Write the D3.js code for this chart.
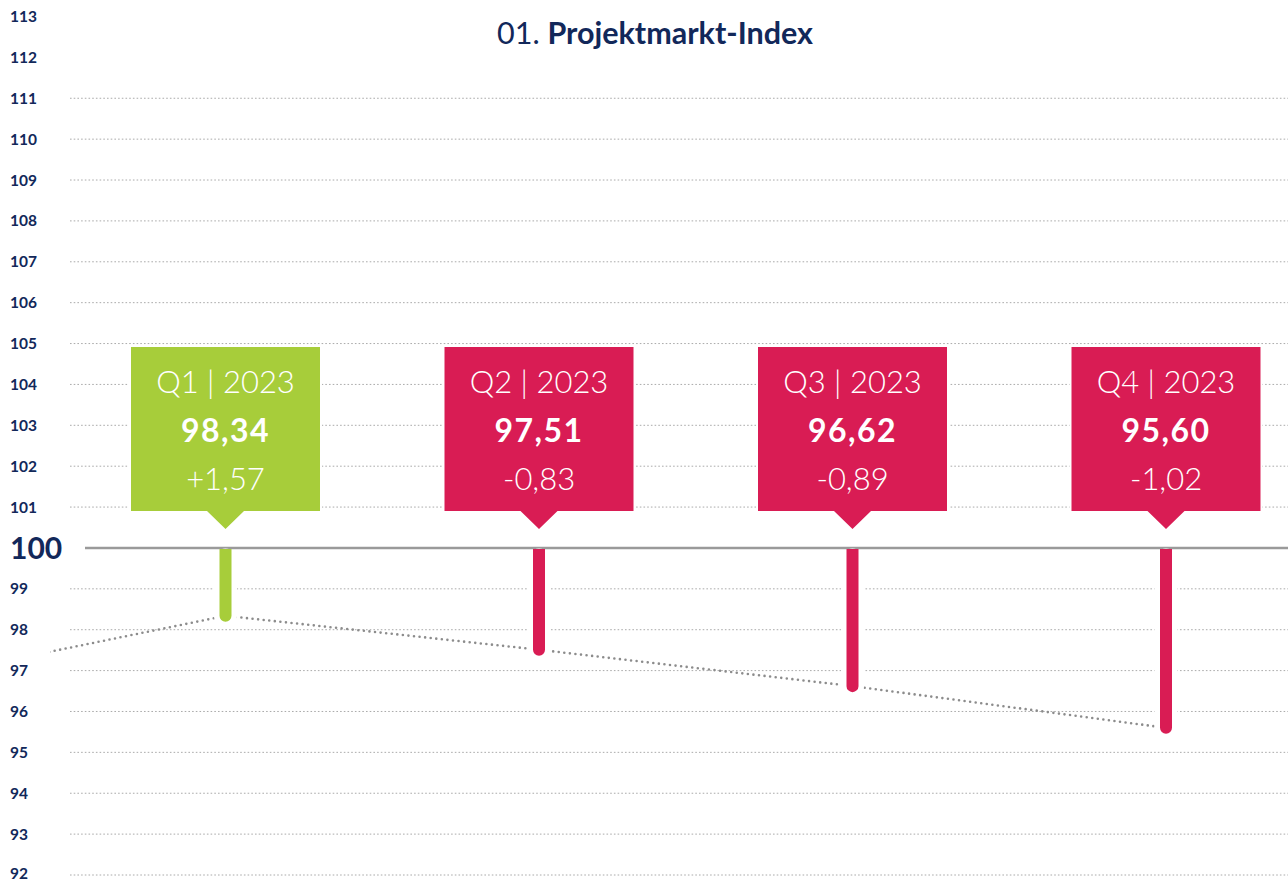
<!DOCTYPE html>
<html><head><meta charset="utf-8">
<script src="https://cdn.jsdelivr.net/npm/d3@7"></script>
<style>html,body{margin:0;padding:0;background:#fff;}svg{display:block;font-family:Lato,"Open Sans",sans-serif;}</style>
</head><body>
<svg id="c" width="1288" height="881"></svg>
<script>
const quarters = ["Q4 | 2022","Q1 | 2023","Q2 | 2023","Q3 | 2023","Q4 | 2023"];
const values = [96.77, 98.34, 97.51, 96.62, 95.60];
const changes = [null, "+1,57", "-0,83", "-0,89", "-1,02"];
const valueLabels = [null, "98,34", "97,51", "96,62", "95,60"];
const yTicks = d3.range(92, 114);
const gridTicks = d3.range(92, 112).filter(v => v !== 100);

const navy = "#12285a", green = "#a7cd3a", red = "#d91c54";
const svg = d3.select("#c");
const W = 1288;
const y = d3.scaleLinear().domain([92, 113]).range([875, 16.5]);
const x = d3.scalePoint().domain(quarters).range([-88, 1166]);

// title
const t = svg.append("text").attr("x", 655).attr("y", 44).attr("text-anchor", "middle")
  .attr("fill", navy).attr("font-size", 30.5);
t.append("tspan").attr("font-weight", 400).text("01. ");
t.append("tspan").attr("font-weight", 700).text("Projektmarkt-Index");

// y labels
svg.append("g").selectAll("text").data(yTicks).join("text")
  .attr("x", 10).attr("y", d => d === 92 ? y(d) - 1.5 : y(d)).attr("dy", "0.36em")
  .attr("fill", navy).attr("font-weight", 700)
  .attr("font-size", d => d === 100 ? 30 : 15.5)
  .text(d => d);

// gridlines
svg.append("g").selectAll("line").data(gridTicks).join("line")
  .attr("x1", 70).attr("x2", W).attr("y1", d => y(d)).attr("y2", d => y(d))
  .attr("stroke", "#aaa").attr("stroke-width", 1).attr("stroke-dasharray", "1.6,2.1");

// trend line
svg.append("clipPath").attr("id", "clipL").append("rect")
  .attr("x", 50).attr("y", 0).attr("width", W).attr("height", 881);
svg.append("path").datum(quarters.map((q, i) => [x(q), y(values[i])]))
  .attr("clip-path", "url(#clipL)")
  .attr("d", d3.line()).attr("fill", "none")
  .attr("stroke", "#8c8c8c").attr("stroke-width", 2.6)
  .attr("stroke-linecap", "round").attr("stroke-dasharray", "0,5.6");

// 100 line
svg.append("line").attr("x1", 85).attr("x2", W).attr("y1", y(100)).attr("y2", y(100))
  .attr("stroke", "#9a9a9a").attr("stroke-width", 2.6);

const idx = [1, 2, 3, 4];
const col = i => values[i] >= values[i - 1] ? green : red;

// white underlay around bars
svg.append("g").selectAll("line").data(idx).join("line")
  .attr("x1", i => x(quarters[i])).attr("x2", i => x(quarters[i]))
  .attr("y1", y(100) + 12).attr("y2", i => y(values[i]))
  .attr("stroke", "#fff").attr("stroke-width", 23).attr("stroke-linecap", "round");

// bars (flat top at 100, round bottom)
const bw = 12;
svg.append("g").selectAll("path").data(idx).join("path")
  .attr("fill", i => col(i))
  .attr("d", i => {
    const cx = x(quarters[i]), y0 = y(100) + 1, y1 = y(values[i]);
    const r = bw / 2;
    return `M${cx - r},${y0} L${cx + r},${y0} L${cx + r},${y1} A${r},${r} 0 0 1 ${cx - r},${y1} Z`;
  });

// boxes
const boxW = 189, boxTop = 347, boxBot = 511, triH = 18, triW = 37;
const boxPath = `M${-boxW/2},${boxTop} H${boxW/2} V${boxBot} H${triW/2} L0,${boxBot + triH} L${-triW/2},${boxBot} H${-boxW/2} Z`;
const g = svg.append("g").selectAll("g").data(idx).join("g")
  .attr("transform", i => `translate(${x(quarters[i])},0)`);
g.append("path").attr("d", boxPath)
  .attr("fill", i => col(i)).attr("stroke", "#fff").attr("stroke-width", 4);
g.append("path").attr("d", boxPath).attr("fill", i => col(i));
g.append("text").attr("y", 393).attr("text-anchor", "middle").attr("fill", "#fff")
  .attr("font-size", 31).attr("font-weight", 300).text(i => quarters[i]);
g.append("text").attr("y", 442).attr("text-anchor", "middle").attr("fill", "#fff")
  .attr("font-size", 32).attr("font-weight", 700).attr("letter-spacing", 1.5).text(i => valueLabels[i]);
g.append("text").attr("y", 490).attr("text-anchor", "middle").attr("fill", "#fff")
  .attr("font-size", 31).attr("font-weight", 300).text(i => changes[i]);
</script>
</body></html>
